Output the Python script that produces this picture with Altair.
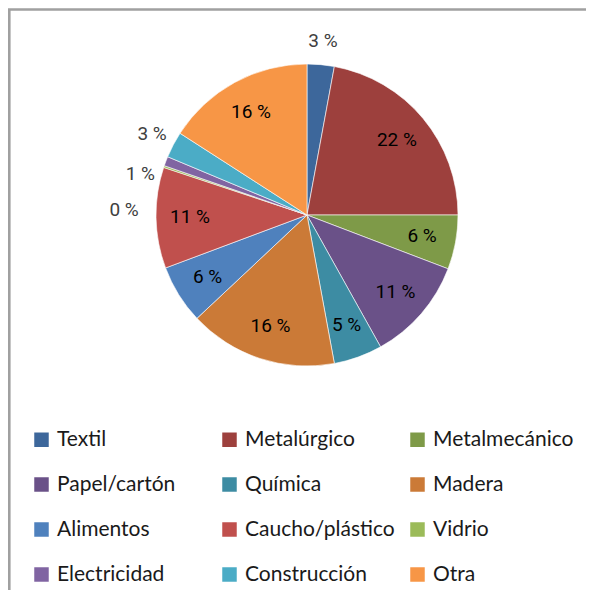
import math
import altair as alt
import pandas as pd

categories = ["Textil", "Metalúrgico", "Metalmecánico", "Papel/cartón", "Química", "Madera",
              "Alimentos", "Caucho/plástico", "Vidrio", "Electricidad", "Construcción", "Otra"]
values = [2.9, 22.1, 5.8, 11.1, 5.2, 15.9, 6.3, 10.8, 0.2, 1.0, 2.8, 15.9]
colors = ["#3d679b", "#9d403d", "#7e9a48", "#6a5188", "#3d8ca3", "#cb7a37",
          "#4f81bd", "#c0504d", "#9bbb59", "#8064a2", "#4bacc6", "#f79646"]

df = pd.DataFrame({"cat": categories, "value": values, "order": list(range(len(categories)))})

CX, CY, R = 299, 207, 151
theta_scale = alt.Scale(domain=[0, 100], range=[0, 2 * math.pi])

base = alt.Chart(df).transform_window(
    cum="sum(value)", sort=[alt.SortField("order")], frame=[None, 0]
).transform_calculate(
    start="datum.cum - datum.value",
    mid="datum.cum - datum.value / 2",
    label="format(datum.value, '.0f') + ' %'",
)

pie = base.mark_arc(radius=R, stroke="white", strokeWidth=0.6).encode(
    theta=alt.Theta("start:Q", scale=theta_scale, stack=None),
    theta2="cum:Q",
    color=alt.Color(
        "cat:N",
        scale=alt.Scale(domain=categories, range=colors),
        sort=categories,
        legend=alt.Legend(
            orient="none", legendX=23, legendY=421, columns=3, direction="horizontal",
            title=None,
            symbolType="square", symbolSize=210, symbolStrokeWidth=0, symbolOpacity=1,
            labelFont="Lato", labelFontSize=21, labelColor="#1a1a1a", labelOffset=5,
            labelLimit=300, columnPadding=12, rowPadding=23, gridAlign="all",
        ),
    ),
    x=alt.value(CX),
    y=alt.value(CY),
)

def labels(filter_expr, radius, color, dx=0, dy=0):
    return base.transform_filter(filter_expr).mark_text(
        radius=radius, font="Roboto", fontSize=19, color=color, dx=dx, dy=dy
    ).encode(
        theta=alt.Theta("mid:Q", scale=theta_scale, stack=None),
        text="label:N",
        x=alt.value(CX),
        y=alt.value(CY),
    )

inside = labels("datum.value >= 4", 117, "#000000")
outside_a = labels("datum.cat == 'Textil' || datum.cat == 'Construcción'", 175, "#404040")
outside_b = labels("datum.cat == 'Electricidad'", 172, "#404040", dx=-6, dy=20)
outside_c = labels("datum.cat == 'Vidrio'", 172, "#404040", dx=-20, dy=50)

border = alt.Chart(pd.DataFrame({"b": [0]})).mark_rect(
    fillOpacity=0, stroke="#a0a0a0", strokeWidth=2.6
).encode(x=alt.value(1.3), y=alt.value(1.5), x2=alt.value(900), y2=alt.value(900))

chart = alt.layer(border, pie, inside, outside_a, outside_b, outside_c).properties(
    width=578, height=582, padding=0, background="white",
    autosize=alt.AutoSizeParams(type="none"),
).configure_view(stroke=None)

chart.save("out.html", embed_options={"renderer": "svg", "actions": False})
